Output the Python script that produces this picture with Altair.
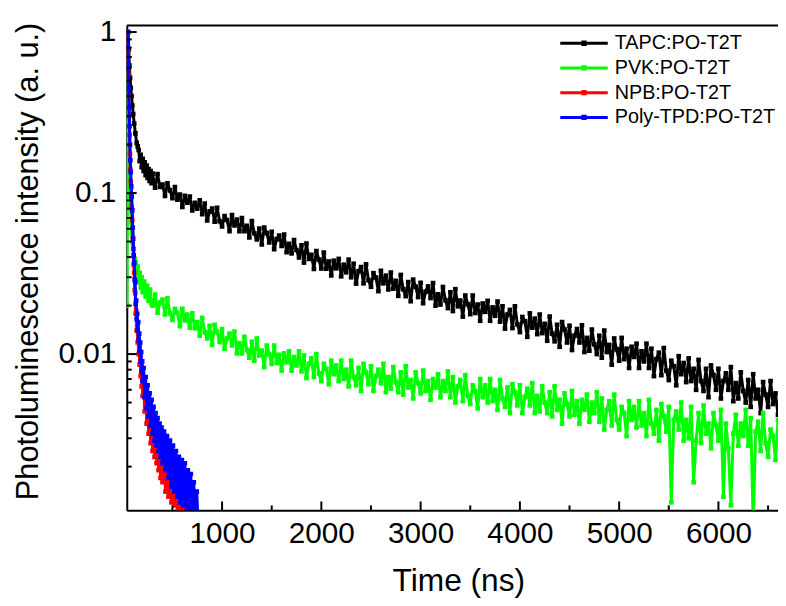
import altair as alt
import pandas as pd

FONT = "Liberation Sans"
SERIES = ["TAPC:PO-T2T", "PVK:PO-T2T", "NPB:PO-T2T", "Poly-TPD:PO-T2T"]
COLORS = ["#000000", "#00ff00", "#ff0000", "#0000ff"]

# regular time grid (ns, 25 ns step) used after the fast initial decay
GRID_T = list(range(300, 6601, 25))

TAPC_T0 = [55, 60, 66, 73, 80, 88, 96, 105, 115, 127, 140, 150, 160, 170, 180, 190,
           200, 210, 220, 230, 240, 250, 260, 270, 280, 290]
TAPC_I0 = [1.0, 0.78, 0.62, 0.52, 0.45, 0.40, 0.35, 0.31, 0.27, 0.235, 0.205, 0.195,
           0.185, 0.158, 0.173, 0.145, 0.163, 0.137, 0.155, 0.129, 0.148, 0.124, 0.141,
           0.119, 0.137, 0.115]
TAPC_I1 = [
    # 300 - 775
    0.132, 0.108, 0.131, 0.109, 0.113, 0.096, 0.115, 0.104, 0.093, 0.109,
    0.091, 0.098, 0.082, 0.096, 0.087, 0.095, 0.078, 0.087, 0.080, 0.090,
    # 800 - 1275
    0.074, 0.086, 0.0675, 0.077, 0.080, 0.0665, 0.081, 0.067, 0.062, 0.072,
    0.068, 0.058, 0.073, 0.063, 0.0685, 0.058, 0.070, 0.058, 0.0625, 0.053,
    # 1300 - 1775
    0.067, 0.0563, 0.0516, 0.0602, 0.0479, 0.061, 0.0564, 0.0493, 0.0575, 0.0449,
    0.0518, 0.0545, 0.0469, 0.0552, 0.0429, 0.0484, 0.0422, 0.0511, 0.0443, 0.0398,
    # 1800 - 2275
    0.0474, 0.0370, 0.0486, 0.0390, 0.0414, 0.0338, 0.0436, 0.0386, 0.0340, 0.0427,
    0.0339, 0.0376, 0.0308, 0.0380, 0.0341, 0.0390, 0.0304, 0.0359, 0.0322, 0.0386,
    # 2300 - 2775
    0.0300, 0.0364, 0.0274, 0.0327, 0.0347, 0.0275, 0.0361, 0.0288, 0.0262, 0.0318,
    0.0299, 0.0246, 0.0329, 0.0275, 0.0307, 0.0252, 0.0321, 0.0255, 0.0285, 0.0230,
    # 2800 - 3275
    0.0310, 0.0253, 0.0229, 0.0280, 0.0213, 0.0290, 0.0262, 0.0226, 0.0277, 0.0207,
    0.0244, 0.0263, 0.0223, 0.0276, 0.0200, 0.0235, 0.0203, 0.0261, 0.0216, 0.0193,
    # 3300 - 3775
    0.0242, 0.0185, 0.0253, 0.0198, 0.0215, 0.0171, 0.0231, 0.0204, 0.0177, 0.0231,
    0.0180, 0.0203, 0.0161, 0.0206, 0.0183, 0.0214, 0.0161, 0.0195, 0.0173, 0.0212,
    # 3800 - 4275
    0.0159, 0.0198, 0.0144, 0.0176, 0.0188, 0.0145, 0.0198, 0.0153, 0.0137, 0.0170,
    0.0160, 0.0128, 0.0179, 0.0146, 0.0166, 0.0133, 0.0176, 0.0135, 0.0154, 0.0121,
    # 4300 - 4775
    0.0171, 0.0134, 0.0120, 0.0152, 0.0111, 0.0158, 0.0142, 0.0118, 0.0150, 0.0106,
    0.0130, 0.0143, 0.0118, 0.0151, 0.0103, 0.0126, 0.0105, 0.0142, 0.0115, 0.0100,
    # 4800 - 5275
    0.0130, 0.0095, 0.0140, 0.0103, 0.0114, 0.0086, 0.0125, 0.0107, 0.0091, 0.0126,
    0.0093, 0.0108, 0.0082, 0.0111, 0.0096, 0.0116, 0.0082, 0.0104, 0.0090, 0.0116,
    # 5300 - 5775
    0.0082, 0.0108, 0.0073, 0.0093, 0.0102, 0.0074, 0.0109, 0.0079, 0.0069, 0.0091,
    0.0084, 0.0064, 0.0097, 0.0075, 0.0088, 0.0067, 0.0094, 0.0068, 0.0081, 0.0060,
    # 5800 - 6275
    0.0092, 0.0068, 0.0059, 0.0081, 0.0054, 0.0085, 0.0074, 0.0060, 0.0081, 0.0053,
    0.0068, 0.0076, 0.0060, 0.0083, 0.0051, 0.0066, 0.0053, 0.0077, 0.0059, 0.0050,
    # 6300 - 6600
    0.0069, 0.0047, 0.0075, 0.0053, 0.0060, 0.0043, 0.0067, 0.0056, 0.0047, 0.0068,
    0.0049, 0.0057, 0.0042,
]

PVK_T0 = [42, 50, 56, 63, 70, 78, 86, 93, 100, 110, 120, 130, 140, 150, 160, 170,
          180, 190, 200, 215, 230, 245, 260, 275, 290]
PVK_I0 = [0.020, 0.55, 0.28, 0.16, 0.11, 0.083, 0.066, 0.057, 0.049, 0.045, 0.039,
          0.037, 0.031, 0.035, 0.028, 0.032, 0.0258, 0.0300, 0.0242, 0.0282, 0.0228,
          0.0265, 0.0214, 0.0252, 0.0205]
PVK_I1 = [
    # 300 - 775
    0.0200, 0.0234, 0.0181, 0.0209, 0.0218, 0.0176, 0.0222, 0.0179, 0.0163, 0.0191,
    0.0180, 0.0149, 0.0191, 0.0162, 0.0176, 0.0146, 0.0179, 0.0145, 0.0158, 0.0130,
    # 800 - 1275
    0.0168, 0.0137, 0.0125, 0.0150, 0.0114, 0.0152, 0.0138, 0.0119, 0.0143, 0.0108,
    0.0125, 0.0134, 0.0113, 0.0138, 0.0101, 0.0117, 0.0101, 0.0128, 0.0106, 0.0095,
    # 1300 - 1775
    0.0119, 0.0091, 0.0125, 0.0098, 0.0105, 0.0083, 0.0113, 0.0100, 0.0087, 0.0113,
    0.0088, 0.0099, 0.0079, 0.0101, 0.0089, 0.0104, 0.0079, 0.0096, 0.0085, 0.0104,
    # 1800 - 2275
    0.0078, 0.0098, 0.0071, 0.0087, 0.0094, 0.0072, 0.0100, 0.0076, 0.0068, 0.0087,
    0.0081, 0.0065, 0.0091, 0.0075, 0.0085, 0.0068, 0.0091, 0.0070, 0.0080, 0.0063,
    # 2300 - 2775
    0.0091, 0.0072, 0.0064, 0.0082, 0.0059, 0.0087, 0.0077, 0.0065, 0.0084, 0.0059,
    0.0073, 0.0080, 0.0066, 0.0087, 0.0058, 0.0072, 0.0061, 0.0083, 0.0067, 0.0058,
    # 2800 - 3275
    0.0077, 0.0056, 0.0084, 0.0062, 0.0069, 0.0053, 0.0077, 0.0066, 0.0057, 0.0079,
    0.0059, 0.0068, 0.0052, 0.0070, 0.0062, 0.0075, 0.0054, 0.0068, 0.0059, 0.0078,
    # 3300 - 3775
    0.0054, 0.0072, 0.0050, 0.0063, 0.0069, 0.0051, 0.0074, 0.0055, 0.0049, 0.0064,
    0.0059, 0.0046, 0.0070, 0.0054, 0.0064, 0.0050, 0.0070, 0.0051, 0.0060, 0.0045,
    # 3800 - 4275
    0.0069, 0.0053, 0.0047, 0.0062, 0.0043, 0.0065, 0.0058, 0.0048, 0.0064, 0.0043,
    0.0054, 0.0061, 0.0048, 0.0066, 0.0043, 0.0055, 0.0044, 0.0063, 0.0050, 0.0043,
    # 4300 - 4775
    0.0058, 0.0041, 0.0063, 0.0045, 0.0052, 0.0037, 0.0057, 0.0049, 0.0041, 0.0059,
    0.0042, 0.0051, 0.0037, 0.0052, 0.0045, 0.0056, 0.0038, 0.0050, 0.0043, 0.0058,
    # 4800 - 5275
    0.0038, 0.0053, 0.0034, 0.0045, 0.0051, 0.0036, 0.0056, 0.0039, 0.0034, 0.0047,
    0.0043, 0.0031, 0.0051, 0.0039, 0.0047, 0.0035, 0.0051, 0.0036, 0.0043, 0.0031,
    # 5300 - 5775
    0.0052, 0.0037, 0.0032, 0.0045, 0.0029, 0.0049, 0.0041, 0.0033, 0.0047, 0.0012,
    0.0039, 0.0044, 0.0034, 0.0050, 0.0029, 0.0039, 0.0030, 0.0047, 0.0016, 0.0029,
    # 5800 - 6275
    0.0043, 0.0028, 0.0048, 0.0032, 0.0037, 0.0026, 0.0043, 0.0036, 0.0029, 0.0045,
    0.0013, 0.0037, 0.0026, 0.00115, 0.0032, 0.0042, 0.0027, 0.0037, 0.0031, 0.0045,
    # 6300 - 6600
    0.0027, 0.0040, 0.0009, 0.0033, 0.0038, 0.0025, 0.0043, 0.0028, 0.0023, 0.0034,
    0.0031, 0.0022, 0.0039,
]

NPB_T = [48, 52, 56, 60, 64, 68, 72, 76, 80,
         85, 90, 95, 100, 105, 110, 115, 120, 125, 130, 135, 140, 145, 150, 155,
         160, 165, 170, 175, 180, 185, 190, 195, 200,
         210, 220, 230, 240, 250, 260, 270, 280, 290, 300, 310, 320, 330, 340, 350,
         360, 370, 380, 390, 400,
         415, 430, 445, 460, 475, 490, 505, 520, 535, 550, 565, 580, 595, 610, 625, 640]
NPB_I = [1.0, 0.75, 0.55, 0.40, 0.30, 0.23, 0.175, 0.14, 0.118,
         0.096, 0.082, 0.068, 0.053, 0.045, 0.036, 0.032, 0.025, 0.024, 0.0178,
         0.0185, 0.0140, 0.0152, 0.0118, 0.0133, 0.0100, 0.0114, 0.0086, 0.0099,
         0.0073, 0.0086, 0.0063, 0.0075, 0.0055,
         0.0068, 0.0044, 0.0061, 0.0037, 0.0054, 0.0032, 0.0048, 0.0028, 0.0042,
         0.0025, 0.0038, 0.0023, 0.0035, 0.0021, 0.0032, 0.0019, 0.0029, 0.0017,
         0.0027, 0.0016,
         0.0025, 0.0014, 0.0023, 0.0013, 0.0021, 0.0012, 0.0019, 0.00115, 0.0018,
         0.00105, 0.0016, 0.0010, 0.0015, 0.00095, 0.0014, 0.0009]

PTPD_T = NPB_T + [655, 670, 685, 700, 715, 730, 745, 760]
PTPD_I = [1.0, 0.80, 0.60, 0.45, 0.34, 0.26, 0.20, 0.16, 0.135,
          0.11, 0.095, 0.078, 0.061, 0.052, 0.041, 0.037, 0.029, 0.028, 0.0205,
          0.0215, 0.0165, 0.0178, 0.0140, 0.0158, 0.0122, 0.0134, 0.0104, 0.0118,
          0.0090, 0.0103, 0.0078, 0.0090, 0.0068,
          0.0082, 0.0054, 0.0072, 0.0046, 0.0064, 0.0041, 0.0057, 0.0036, 0.0052,
          0.0032, 0.0047, 0.0029, 0.0043, 0.0027, 0.0040, 0.0025, 0.0037, 0.0023,
          0.0035, 0.0021,
          0.0033, 0.0019, 0.0031, 0.0017, 0.0029, 0.0015, 0.0027, 0.0014, 0.0025,
          0.0013, 0.0023, 0.0012, 0.0022, 0.00115, 0.0021, 0.00105,
          0.0019, 0.0010, 0.0018, 0.00095, 0.0016, 0.0009, 0.0014, 0.00085]

X_MAJOR = [1000, 2000, 3000, 4000, 5000, 6000]
X_MINOR = [500, 1500, 2500, 3500, 4500, 5500, 6500]
Y_MAJOR = [0.01, 0.1, 1]
Y_MINOR = [0.002, 0.003, 0.004, 0.005, 0.006, 0.007, 0.008, 0.009,
           0.02, 0.03, 0.04, 0.05, 0.06, 0.07, 0.08, 0.09,
           0.2, 0.3, 0.4, 0.5, 0.6, 0.7, 0.8, 0.9]

pairs = [
    (SERIES[0], TAPC_T0 + GRID_T, TAPC_I0 + TAPC_I1),
    (SERIES[1], PVK_T0 + GRID_T, PVK_I0 + PVK_I1),
    (SERIES[2], NPB_T, NPB_I),
    (SERIES[3], PTPD_T, PTPD_I),
]
rows = []
for name, ts, vs in pairs:
    assert len(ts) == len(vs), (name, len(ts), len(vs))
    for t, v in zip(ts, vs):
        rows.append({"series": name, "t": t, "I": v})
df = pd.DataFrame(rows)

W, H = 658, 490

x_scale = alt.Scale(domain=[40, 6600], nice=False, zero=False)
y_scale = alt.Scale(type="log", domain=[0.00107, 1.1], nice=False)

x_axis = alt.Axis(values=X_MAJOR, format="d", ticks=False, grid=False,
                  domainWidth=2, domainColor="black",
                  labelFontSize=30, labelFont=FONT, labelColor="black",
                  labelPadding=8, labelFlush=False,
                  title="Time (ns)", titleFont=FONT, titleFontSize=32,
                  titleFontWeight="normal", titleColor="black",
                  titleX=335, titleY=81, titleAlign="center",
                  titleBaseline="alphabetic")
y_axis = alt.Axis(values=Y_MAJOR, format="~g", ticks=False, grid=False,
                  domainWidth=2, domainColor="black",
                  labelFontSize=30, labelFont=FONT, labelColor="black",
                  labelPadding=11, labelFlush=False,
                  title="Photoluminescence intensity (a. u.)", titleFont=FONT,
                  titleFontSize=31, titleFontWeight="normal", titleColor="black",
                  titleAngle=270, titleX=-90, titleY=238, titleAlign="center",
                  titleBaseline="alphabetic")

X = alt.X("t:Q", scale=x_scale, axis=x_axis)
Y = alt.Y("I:Q", scale=y_scale, axis=y_axis)

legend = alt.Legend(orient="none", legendX=452, legendY=8, title=None,
                    labelFont=FONT, labelFontSize=20, labelColor="black",
                    labelLimit=400, labelOffset=21, rowPadding=5, padding=0,
                    symbolType="M-8,0H8M-0.4,-0.4H0.4V0.4H-0.4Z",
                    symbolSize=36, symbolStrokeWidth=3)
color = alt.Color("series:N", scale=alt.Scale(domain=SERIES, range=COLORS),
                  legend=legend)

base = alt.Chart(df)
layers = []
for s in SERIES:
    sub = base.transform_filter(alt.datum.series == s)
    layers.append(sub.mark_line(strokeWidth=3, strokeJoin="round", clip=True)
                  .encode(x=X, y=Y, color=color))
    layers.append(sub.mark_square(size=22, opacity=1, clip=True)
                  .encode(x=X, y=Y, color=color))

xmaj = alt.Chart(pd.DataFrame({"t": X_MAJOR})).mark_rule(color="black", strokeWidth=2).encode(
    x=X, y=alt.value(H), y2=alt.value(H - 9))
xmin = alt.Chart(pd.DataFrame({"t": X_MINOR})).mark_rule(color="black", strokeWidth=2).encode(
    x=X, y=alt.value(H), y2=alt.value(H - 5))
ymaj = alt.Chart(pd.DataFrame({"I": Y_MAJOR})).mark_rule(color="black", strokeWidth=2).encode(
    y=Y, x=alt.value(0), x2=alt.value(10))
ymin = alt.Chart(pd.DataFrame({"I": Y_MINOR})).mark_rule(color="black", strokeWidth=2).encode(
    y=Y, x=alt.value(0), x2=alt.value(5))
top = alt.Chart(pd.DataFrame({"k": [0]})).mark_rule(color="black", strokeWidth=2).encode(
    x=alt.value(0), x2=alt.value(W), y=alt.value(0))

chart = alt.layer(*layers, xmaj, xmin, ymaj, ymin, top).properties(
    width=W, height=H,
    autosize=alt.AutoSizeParams(type="none"),
    padding={"left": 120, "top": 14.5, "right": 0, "bottom": 87},
    background="white",
).configure_view(stroke=None)

chart.save("out.html", embed_options={"renderer": "svg", "actions": False})
